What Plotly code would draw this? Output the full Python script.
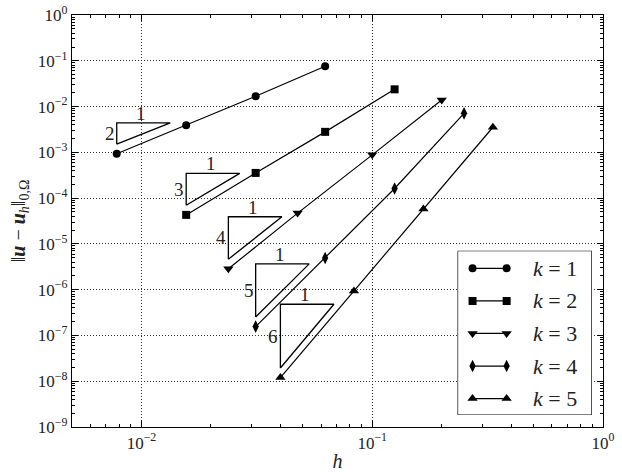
import numpy as np
import plotly.graph_objects as go

# ---- data ----
k_values = [1, 2, 3, 4, 5]
h_k1 = [1/128, 1/64, 1/32, 1/16]
e_k1 = [9.3e-4, 3.9e-3, 1.68e-2, 7.6e-2]
h_k2 = [1/64, 1/32, 1/16, 1/8]
e_k2 = [4.3e-5, 3.55e-4, 2.8e-3, 2.38e-2]
h_k3 = [0.0238, 0.0475, 0.1, 0.2]
e_k3 = [2.85e-6, 4.7e-5, 8.8e-4, 1.39e-2]
h_k4 = [1/32, 1/16, 1/8, 1/4]
e_k4 = [1.56e-7, 4.9e-6, 1.62e-4, 7.1e-3]
h_k5 = [0.04, 1/12, 1/6, 1/3]
e_k5 = [1.2e-8, 9.4e-7, 5.8e-5, 3.53e-3]

x_tickvals = [1e-2, 1e-1, 1e0]
x_ticktext = ["10<sup>−2</sup>", "10<sup>−1</sup>", "10<sup>0</sup>"]
y_exponents = [-9, -8, -7, -6, -5, -4, -3, -2, -1, 0]

series_h = [h_k1, h_k2, h_k3, h_k4, h_k5]
series_e = [e_k1, e_k2, e_k3, e_k4, e_k5]
symbols = ["circle", "square", "triangle-down", "diamond-tall", "triangle-up"]
sizes = [8, 8, 9, 9, 9]

FONT = "Liberation Serif, DejaVu Serif, serif"
TXT = "#222"
tri_offset = 0.21   # decades above first point
tri_width = 0.232   # decades in h

fig = go.Figure()

for k, h, e, sym, sz in zip(k_values, series_h, series_e, symbols, sizes):
    fig.add_trace(go.Scatter(
        x=h, y=e, mode="lines+markers", name=f"k = {k}", showlegend=False,
        line=dict(color="black", width=1.2),
        marker=dict(symbol=sym, size=sz, color="black"),
    ))

annotations = []
for k, h, e in zip(k_values, series_h, series_e):
    lx0 = np.log10(h[0])
    ly0 = np.log10(e[0]) + tri_offset
    lx1 = lx0 + tri_width
    ly1 = ly0 + (k + 1) * tri_width
    tx = [10**lx0, 10**lx1, 10**lx0, 10**lx0]
    ty = [10**ly0, 10**ly1, 10**ly1, 10**ly0]
    fig.add_trace(go.Scatter(x=tx, y=ty, mode="lines", showlegend=False,
                             line=dict(color="black", width=1.3), hoverinfo="skip"))
    annotations.append(dict(x=(lx0 + lx1) / 2 - 0.01, y=ly1, xref="x", yref="y",
                            text="1", showarrow=False, yanchor="bottom", yshift=-3,
                            font=dict(family=FONT, size=19, color=TXT)))
    annotations.append(dict(x=lx0, y=(ly0 + ly1) / 2, xref="x", yref="y",
                            text=str(k + 1), showarrow=False, xanchor="right", xshift=0,
                            font=dict(family=FONT, size=19, color=TXT)))

# ---- custom legend (own small axes, units = pixels inside the box) ----
LEG_W, LEG_H = 134, 164
row_y = [17.6 + 32.5 * i for i in range(len(k_values))]
fig.add_trace(go.Scatter(x=[0, LEG_W, LEG_W, 0, 0], y=[0, 0, LEG_H, LEG_H, 0],
                         xaxis="x2", yaxis="y2", mode="lines", fill="toself",
                         fillcolor="white", line=dict(color="black", width=1.3),
                         showlegend=False, hoverinfo="skip"))
for k, sym, sz, ry in zip(k_values, symbols, sizes, row_y):
    fig.add_trace(go.Scatter(x=[15, 49], y=[ry, ry], xaxis="x2", yaxis="y2",
                             mode="lines+markers", showlegend=False, hoverinfo="skip",
                             line=dict(color="black", width=1.2),
                             marker=dict(symbol=sym, size=sz, color="black")))
    annotations.append(dict(x=73, y=ry, xref="x2", yref="y2", xanchor="left",
                            text=f"<i>k</i> = {k}", showarrow=False,
                            font=dict(family=FONT, size=22, color=TXT)))

y_tickvals = [10.0**p for p in y_exponents]
y_ticktext = [f"10<sup>{'−' if p < 0 else ''}{abs(p)}</sup>" for p in y_exponents]

x_minor = [m * 10.0**p for p in [-3, -2, -1] for m in range(2, 10) if 0.005 <= m * 10.0**p <= 1]
y_minor = [m * 10.0**p for p in range(-9, 0) for m in range(2, 10)]

axis_common = dict(
    type="log", showline=True, linecolor="black", linewidth=1.4, mirror="allticks",
    ticks="inside", ticklen=6, tickcolor="black", tickwidth=1,
    showgrid=True, gridcolor="#333", griddash="1px,2px", gridwidth=1,
    zeroline=False, tickfont=dict(family=FONT, size=17, color=TXT), automargin=False,
)

fig.update_layout(
    width=622, height=472,
    margin=dict(l=72, r=19, t=15, b=45),
    plot_bgcolor="white", paper_bgcolor="white",
    font=dict(family=FONT, color="black"),
    xaxis=dict(**axis_common, range=[np.log10(0.005), 0],
               tickvals=x_tickvals, ticktext=x_ticktext,
               minor=dict(tickvals=x_minor, ticks="inside", ticklen=3, tickcolor="black", showgrid=False),
               title=dict(text="<i>h</i>", font=dict(family=FONT, size=20, color=TXT), standoff=2)),
    yaxis=dict(**axis_common, range=[-9, 0],
               tickvals=y_tickvals, ticktext=y_ticktext,
               minor=dict(tickvals=y_minor, ticks="inside", ticklen=3, tickcolor="black", showgrid=False),
               title=dict(text="‖<b><i>u</i></b> − <b><i>u</i></b><sub><i>h</i></sub>‖<sub>0,Ω</sub>",
                          font=dict(family=FONT, size=20, color=TXT), standoff=6)),
    xaxis2=dict(domain=[0.726, 0.979], range=[0, LEG_W], anchor="y2", visible=False,
                fixedrange=True),
    yaxis2=dict(domain=[0.029, 0.428], range=[LEG_H, 0], anchor="x2", visible=False,
                fixedrange=True),
    annotations=annotations,
    showlegend=False,
)

fig.write_html("out.html", config={"displayModeBar": False},
               post_script="document.body.style.margin='0';")
